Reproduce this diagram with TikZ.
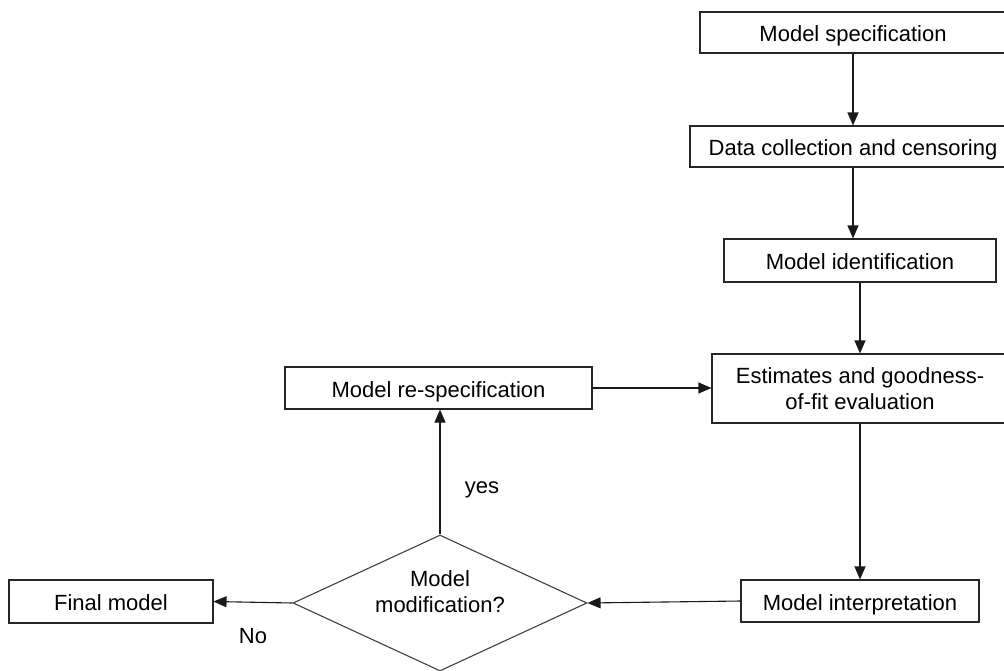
\documentclass[tikz,border=0pt]{standalone}
\usepackage{fontspec}
\setmainfont{Liberation Sans}
\usetikzlibrary{arrows.meta,shapes.geometric,calc}
\begin{document}
\begin{tikzpicture}[x=1pt,y=-1pt,
  every node/.style={font=\fontsize{22}{26}\selectfont},
  stepbox/.style={draw=black!85,line width=1.1pt,rectangle,inner sep=0pt,align=center},
  oneline/.style={text height=22pt,text depth=4pt},
  decision/.style={draw=black!75,line width=1.1pt,diamond,inner sep=0pt,
    minimum width=294pt,minimum height=136pt,aspect=2.16},
  flow/.style={draw=black!90,line width=1.1pt,-{Triangle[length=13pt,width=11pt]}},
  lbl/.style={inner sep=0pt,align=center}]
\useasboundingbox (0,0) rectangle (1004,670);

\node[stepbox,oneline,minimum width=306pt,minimum height=41pt] (spec) at (853,32.5) {Model specification};
\node[stepbox,oneline,minimum width=326pt,minimum height=41pt] (data) at (853,146.5) {Data collection and censoring};
\node[stepbox,oneline,minimum width=272pt,minimum height=43pt] (ident) at (860,260.5) {Model identification};
\node[stepbox,minimum width=296pt,minimum height=69pt] (est) at (860,388.5) {Estimates and goodness-\\of-fit evaluation};
\node[stepbox,oneline,minimum width=307pt,minimum height=42pt] (respec) at (438.5,388) {Model re-specification};
\node[stepbox,oneline,minimum width=238pt,minimum height=42pt] (interp) at (860,601) {Model interpretation};
\node[stepbox,oneline,minimum width=204pt,minimum height=43pt] (final) at (111,601.5) {Final model};
\node[decision] (dia) at (440,603) {};
\node[lbl] (diatext) at (440,592) {Model\\modification?};

\node[lbl] (yes) at (482,490) {yes};
\node[lbl] (no) at (253,636) {No};

\draw[flow] (spec.south) -- (data.north);
\draw[flow] (data.south) -- (data.south |- ident.north);
\draw[flow] (ident.south) -- (est.north);
\draw[flow] (est.south) -- (interp.north);
\draw[flow] (interp.west) -- (dia.east);
\draw[flow] (dia.west) -- (final.east);
\draw[flow] (dia.north) -- (dia.north |- respec.south);
\draw[flow] (respec.east) -- (respec.east -| est.west);
\end{tikzpicture}
\end{document}
